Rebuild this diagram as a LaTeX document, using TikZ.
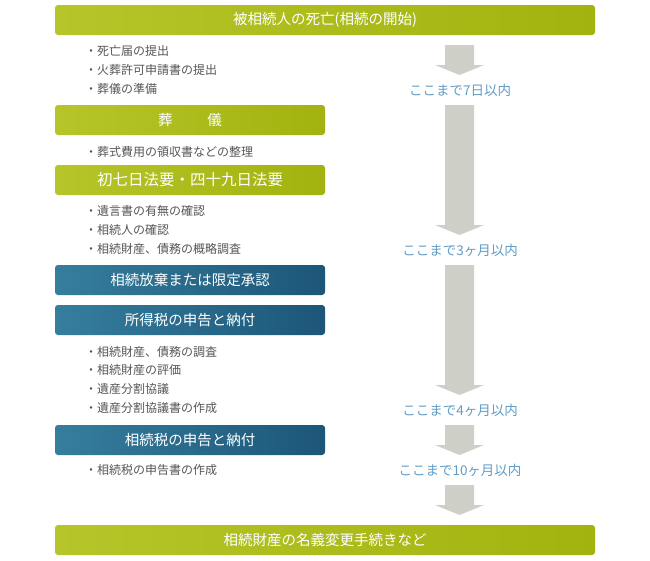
\documentclass[tikz,border=0pt]{standalone}
\usepackage{fontspec}
\setmainfont{Noto Sans CJK JP}

\definecolor{greenL}{RGB}{182,198,42}
\definecolor{greenR}{RGB}{162,178,14}
\definecolor{blueL}{RGB}{54,126,158}
\definecolor{blueR}{RGB}{28,86,120}
\definecolor{arrowgray}{RGB}{206,208,200}
\definecolor{limitblue}{RGB}{96,156,196}
\definecolor{itemgray}{RGB}{85,85,85}

\newcommand{\grayarrow}[2]{%
\fill [arrowgray] (445,#1) -- (474,#1) -- (474,#2-10) -- (484,#2-10) -- (459.5,#2) -- (435,#2-10) -- (445,#2-10) -- cycle;}

\begin{document}
\begin{tikzpicture}[x=1pt,y=-1pt]
\tikzstyle{every node}+=[inner sep=0pt]
\tikzstyle{bar}=[rounded corners=3pt, minimum height=30pt, text=white, font=\fontsize{14.5}{16}\selectfont]
\tikzstyle{longbar}=[bar, minimum width=540pt, left color=greenL, right color=greenR]
\tikzstyle{greenbar}=[bar, minimum width=270pt, left color=greenL, right color=greenR]
\tikzstyle{bluebar}=[bar, minimum width=270pt, left color=blueL, right color=blueR]
\tikzstyle{item}=[anchor=west, text=itemgray, font=\fontsize{12}{14}\selectfont]
\tikzstyle{limit}=[text=limitblue, font=\fontsize{13.5}{15}\selectfont]
\useasboundingbox (0,0) rectangle (650,560);

\node [longbar] (death) at (325,20) {被相続人の死亡(相続の開始)};
\node [item] (i1) at (85,51) {・死亡届の提出};
\node [item] (i2) at (85,70) {・火葬許可申請書の提出};
\node [item] (i3) at (85,89) {・葬儀の準備};

\node [greenbar] (funeral) at (190,120) {葬\hspace{2.4em}儀};
\node [item] (i4) at (85,152) {・葬式費用の領収書などの整理};

\node [greenbar, font=\fontsize{15.5}{17}\selectfont] (memorial) at (190,180) {初七日法要・四十九日法要};
\node [item] (i5) at (85,211) {・遺言書の有無の確認};
\node [item] (i6) at (85,230) {・相続人の確認};
\node [item] (i7) at (85,249) {・相続財産、債務の概略調査};

\node [bluebar] (renounce) at (190,280) {相続放棄または限定承認};
\node [bluebar] (income) at (190,320) {所得税の申告と納付};
\node [item] (i8) at (85,352) {・相続財産、債務の調査};
\node [item] (i9) at (85,370) {・相続財産の評価};
\node [item] (i10) at (85,389) {・遺産分割協議};
\node [item] (i11) at (85,408) {・遺産分割協議書の作成};

\node [bluebar] (inhtax) at (190,440) {相続税の申告と納付};
\node [item] (i12) at (85,470) {・相続税の申告書の作成};

\node [longbar] (transfer) at (325,540) {相続財産の名義変更手続きなど};

% time limits
\node [limit] (by7d) at (460,90) {ここまで7日以内};
\node [limit] (by3m) at (460,250) {ここまで3ヶ月以内};
\node [limit] (by4m) at (460,410) {ここまで4ヶ月以内};
\node [limit] (by10m) at (460,470) {ここまで10ヶ月以内};

\grayarrow{45}{75}
\grayarrow{105}{235}
\grayarrow{265}{395}
\grayarrow{425}{455}
\grayarrow{485}{515}
\end{tikzpicture}
\end{document}
